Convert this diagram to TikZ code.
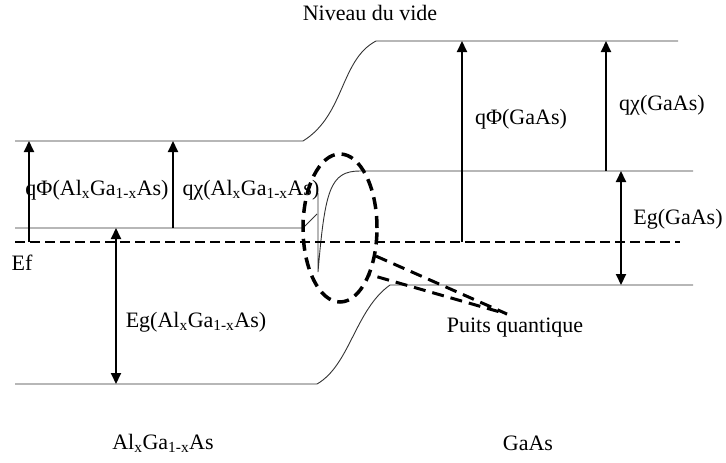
\documentclass[tikz,border=0pt]{standalone}
\usepackage{fontspec}
\setmainfont{Liberation Serif}
\usetikzlibrary{arrows.meta,positioning,shapes.geometric}
\newcommand{\alga}{Al\textsubscript{x}Ga\textsubscript{1-x}As}

\begin{document}
\begin{tikzpicture}[x=1pt,y=-1pt,
    niveau/.style={line width=0.9pt,black!80},
    fermi/.style={line width=2pt,dash pattern=on 10pt off 5pt},
    fleche/.style={line width=2pt,-{Triangle[length=11pt,width=10pt]}},
    flechedbl/.style={line width=2pt,{Triangle[length=11pt,width=10pt]}-{Triangle[length=11pt,width=10pt]}},
    tirets/.style={line width=3.5pt,dash pattern=on 12pt off 7pt},
    txt/.style={font=\fontsize{22}{26}\selectfont,inner sep=0pt}]
  \useasboundingbox (0,0) rectangle (726,463);

  % Niveaux d'energie
  \coordinate (videG) at (15,141);
  \coordinate (videD) at (678,41);
  \coordinate (bcG) at (15,228);
  \coordinate (bcD) at (693,171);
  \coordinate (bvG) at (15,384);
  \coordinate (bvD) at (693,285);
  \coordinate (efG) at (15,242);
  \coordinate (efD) at (680,242);

  \draw[niveau] (videG) -- (303,141) .. controls (345,115) and (340,60) .. (376,41) -- (videD);
  \draw[niveau] (bcG) -- (303,228) -- (317,214);
  \draw[niveau] (318,193) -- (318,272) .. controls (325,190) and (330,171) .. (360,171) -- (bcD);
  \draw[niveau] (bvG) -- (317,384) .. controls (350,365) and (355,310) .. (390,285) -- (bvD);
  \draw[fermi] (efG) -- (efD);

  % Fleches AlGaAs
  \draw[fleche] (29,0 |- efG) -- (29,0 |- videG);
  \draw[fleche] (173,0 |- bcG) -- (173,0 |- videG);
  \draw[flechedbl] (116,0 |- bcG) -- (116,0 |- bvG);

  % Fleches GaAs
  \draw[fleche] (462,0 |- efD) -- (462,0 |- videD);
  \draw[fleche] (606,0 |- bcD) -- (606,0 |- videD);
  \draw[flechedbl] (621,0 |- bcD) -- (621,0 |- bvD);

  % Puits quantique
  \node[ellipse,tirets,draw,minimum width=74pt,minimum height=148pt,inner sep=0pt] (puits) at (340,228) {};
  \coordinate (pointe) at (507,314);
  \draw[tirets,line width=3pt] (puits.-38) -- (pointe) -- (puits.-57);

  % Textes
  \node[txt] (nv) at (370,13) {Niveau du vide};
  \node[txt] (phiG) at (97,190) {qΦ(\alga)};
  \node[txt] (chiG) at (251,190) {qχ(\alga)};
  \node[txt] (ef) at (22,263) {Ef};
  \node[txt] (egG) at (196,322) {Eg(\alga)};
  \node[txt] (phiD) at (521,119) {qΦ(GaAs)};
  \node[txt] (chiD) at (662,105) {qχ(GaAs)};
  \node[txt] (egD) at (678,219) {Eg(GaAs)};
  \node[txt] (pq) at (515,328) {Puits quantique};
  \node[txt] (matG) at (163,443) {\alga};
  \node[txt] (matD) at (528,443) {GaAs};
\end{tikzpicture}
\end{document}
